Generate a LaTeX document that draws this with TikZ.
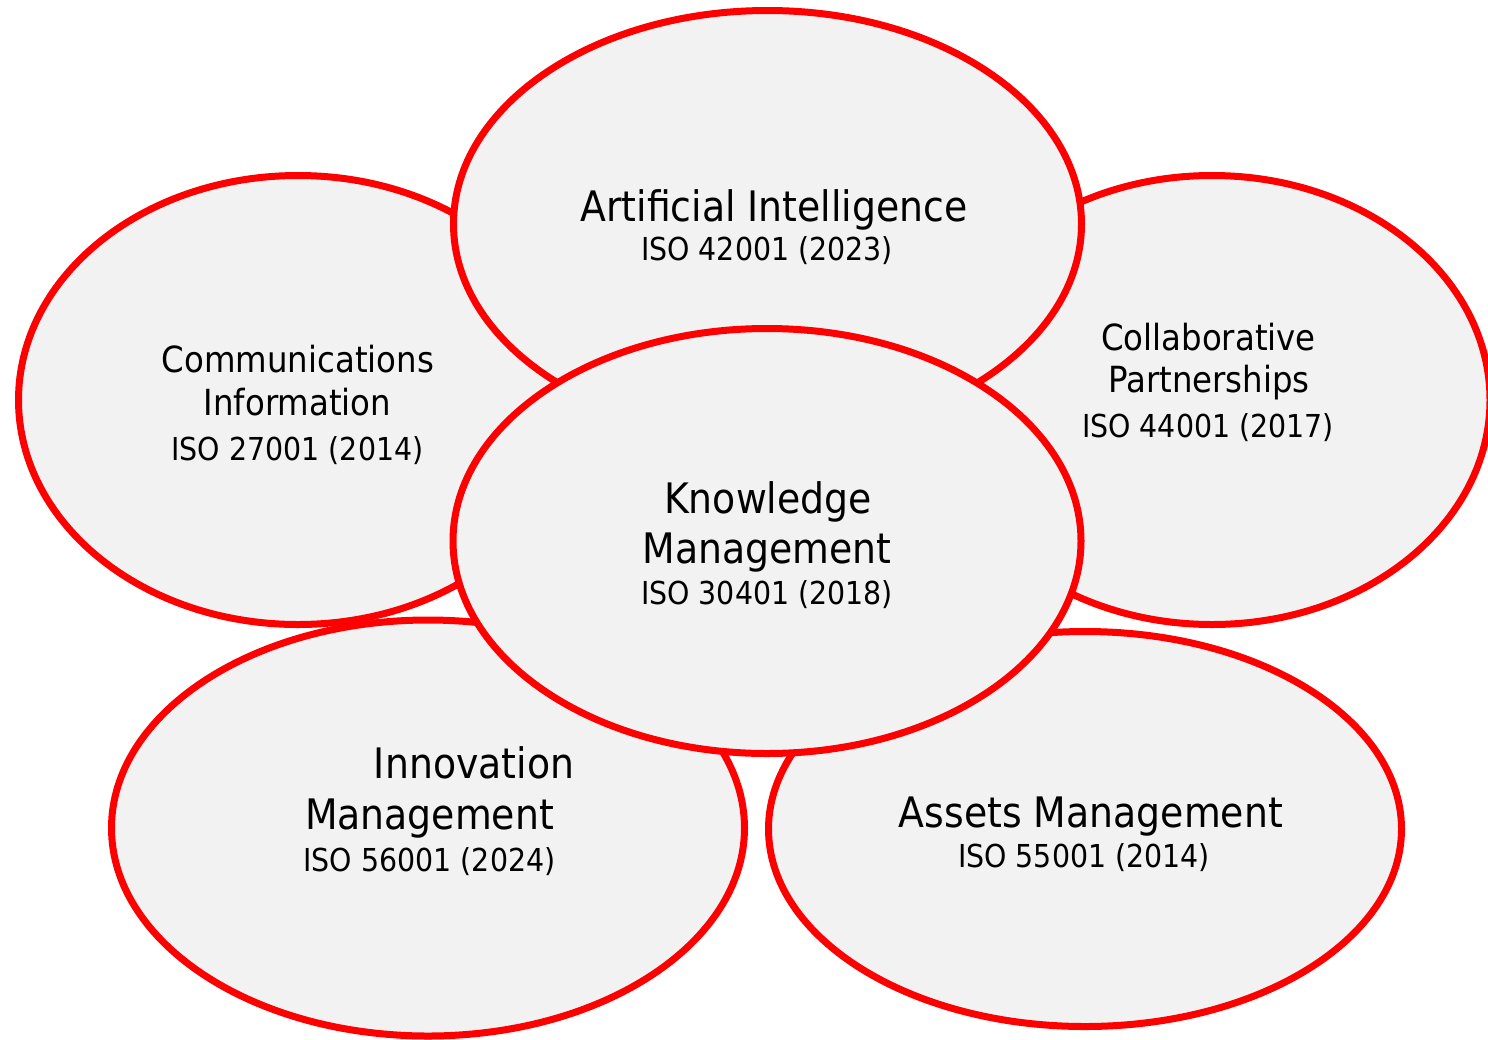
\documentclass[tikz,border=0pt]{standalone}
\usepackage{fontspec}
\setmainfont{DejaVu Sans}[FakeStretch=0.9]
\usepackage{tikz}
\usetikzlibrary{shapes.geometric}
\definecolor{petalred}{HTML}{FF0000}
\definecolor{petalgray}{HTML}{F2F2F2}
\tikzset{petal/.style={ellipse,draw=petalred,fill=petalgray,line width=3.5pt,inner sep=0pt}}
\tikzset{bigtext/.style={anchor=base,inner sep=0pt,font=\fontsize{21}{25}\selectfont}}
\tikzset{midtext/.style={anchor=base,inner sep=0pt,font=\fontsize{18}{22}\selectfont}}
\tikzset{isotext/.style={anchor=base,inner sep=0pt,font=\fontsize{15.8}{19}\selectfont}}

\begin{document}
\begin{tikzpicture}[x=0.5pt,y=-0.5pt]
\useasboundingbox (0,0) rectangle (1488,1039);
%
% side petals
{
\node (comm) [petal,minimum width=279.5pt,minimum height=224.5pt] at (298,400) {};
\node (collab) [petal,minimum width=278pt,minimum height=224.5pt] at (1212,400) {};
}
%
% top petal
{
\node (ai) [petal,minimum width=314pt,minimum height=213.5pt] at (767.5,224) {};
}
%
% bottom petals
{
\node (innov) [petal,minimum width=316.5pt,minimum height=208pt] at (428,828) {};
\node (assets) [petal,minimum width=316.5pt,minimum height=197.5pt] at (1085,829) {};
}
%
% centre
{
\node (km) [petal,minimum width=314pt,minimum height=212.5pt] at (767,541) {};
}
%
% labels
{
\node (ai1) [bigtext] at (774,221) {Artificial Intelligence};
\node (ai2) [isotext] at (767,260) {ISO 42001 (2023)};
%
\node (comm1) [midtext] at (298,372) {Communications};
\node (comm2) [midtext] at (297.5,415) {Information};
\node (comm3) [isotext] at (297.5,460) {ISO 27001 (2014)};
%
\node (collab1) [midtext] at (1208.5,350) {Collaborative};
\node (collab2) [midtext] at (1209,392) {Partnerships};
\node (collab3) [isotext] at (1208,437) {ISO 44001 (2017)};
%
\node (km1) [bigtext] at (768,513) {Knowledge};
\node (km2) [bigtext] at (767,563) {Management};
\node (km3) [isotext] at (767,604) {ISO 30401 (2018)};
%
\node (innov1) [bigtext] at (474,778) {Innovation};
\node (innov2) [bigtext] at (429.5,829) {Management};
\node (innov3) [isotext] at (429.5,871) {ISO 56001 (2024)};
%
\node (assets1) [bigtext] at (1091,827) {Assets Management};
\node (assets2) [isotext] at (1084,867) {ISO 55001 (2014)};
}
\end{tikzpicture}
\end{document}
